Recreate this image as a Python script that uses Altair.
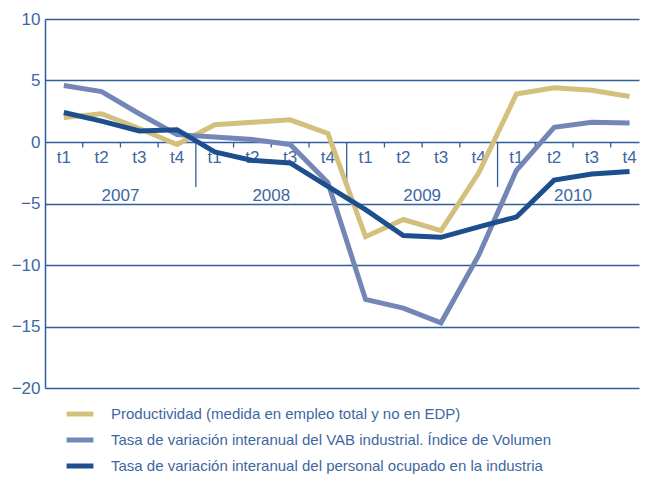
import altair as alt
import pandas as pd

quarters = ["t1", "t2", "t3", "t4"] * 4
years = ["2007", "2008", "2009", "2010"]
series_names = [
    "Productividad (medida en empleo total y no en EDP)",
    "Tasa de variación interanual del VAB industrial. Índice de Volumen",
    "Tasa de variación interanual del personal ocupado en la industria",
]
productividad = [2.0, 2.3, 1.1, -0.2, 1.4, 1.6, 1.8, 0.7, -7.7, -6.3, -7.2, -2.5, 3.9, 4.4, 4.2, 3.7]
vab = [4.6, 4.1, 2.3, 0.6, 0.4, 0.2, -0.2, -3.3, -12.8, -13.5, -14.7, -9.2, -2.3, 1.2, 1.6, 1.55]
personal = [2.4, 1.7, 0.9, 1.0, -0.8, -1.5, -1.7, -3.6, -5.5, -7.6, -7.75, -6.9, -6.1, -3.1, -2.6, -2.4]
colors = ["#D2C07C", "#7386B6", "#1D4E8E"]

FONT = "Liberation Sans"
TXT = "#3D67A3"
GRID = "#2F5E9C"

rows = []
for name, vals in zip(series_names, [productividad, vab, personal]):
    for i, v in enumerate(vals):
        rows.append({"idx": i, "value": v, "serie": name})
df = pd.DataFrame(rows)

xs = alt.Scale(domain=[-0.5, 15.25], nice=False, zero=False)
ys = alt.Scale(domain=[-20, 10], nice=False)

lines = alt.Chart(df).mark_line(strokeWidth=5, strokeJoin="miter").encode(
    x=alt.X("idx:Q", scale=xs, axis=None),
    y=alt.Y("value:Q", scale=ys, axis=alt.Axis(
        values=[10, 5, 0, -5, -10, -15, -20], grid=True, gridColor=GRID, gridOpacity=1,
        gridWidth=1.3, domain=True, domainColor=GRID, domainWidth=1.5, ticks=False,
        labelFontSize=17, labelColor=TXT, labelFont=FONT, labelPadding=5, title=None)),
    color=alt.Color("serie:N", scale=alt.Scale(domain=series_names, range=colors),
                    legend=alt.Legend(orient="none", legendX=19, legendY=379, title=None,
                                      direction="vertical", symbolType="stroke",
                                      symbolStrokeWidth=5, symbolSize=720,
                                      labelFontSize=15, labelFont=FONT, labelColor=TXT,
                                      labelOffset=15, rowPadding=0, labelLimit=700)),
)

qdf = pd.DataFrame({"idx": list(range(16)), "q": quarters, "yv": [-1.3] * 16})
qlabels = alt.Chart(qdf).mark_text(fontSize=17, font=FONT, color=TXT, baseline="middle").encode(
    x=alt.X("idx:Q", scale=xs, axis=None), y=alt.Y("yv:Q", scale=ys), text="q:N")

ydf = pd.DataFrame({"idx": [1.5, 5.5, 9.5, 13.5], "year": years, "yv": [-4.35] * 4})
ylabels = alt.Chart(ydf).mark_text(fontSize=17, font=FONT, color=TXT, baseline="middle").encode(
    x=alt.X("idx:Q", scale=xs, axis=None), y=alt.Y("yv:Q", scale=ys), text="year:N")

tick_pos = [i + 0.5 for i in range(15) if (i + 1) % 4 != 0]
tdf = pd.DataFrame({"idx": tick_pos, "ya": [0] * len(tick_pos), "yb": [-0.45] * len(tick_pos)})
ticks = alt.Chart(tdf).mark_rule(color=GRID, strokeWidth=1.3).encode(
    x=alt.X("idx:Q", scale=xs, axis=None), y=alt.Y("ya:Q", scale=ys), y2="yb:Q")

sep_pos = [3.5, 7.5, 11.5]
sdf = pd.DataFrame({"idx": sep_pos, "ya": [0] * 3, "yb": [-3.65] * 3})
seps = alt.Chart(sdf).mark_rule(color=GRID, strokeWidth=1.3).encode(
    x=alt.X("idx:Q", scale=xs, axis=None), y=alt.Y("ya:Q", scale=ys), y2="yb:Q")

chart = alt.layer(ticks, seps, qlabels, ylabels, lines).properties(
    width=594, height=369,
    padding={"left": 3, "top": 2, "right": 0, "bottom": 0},
).configure_view(stroke=None)

chart.save("out.html", embed_options={"renderer": "svg", "actions": False})
